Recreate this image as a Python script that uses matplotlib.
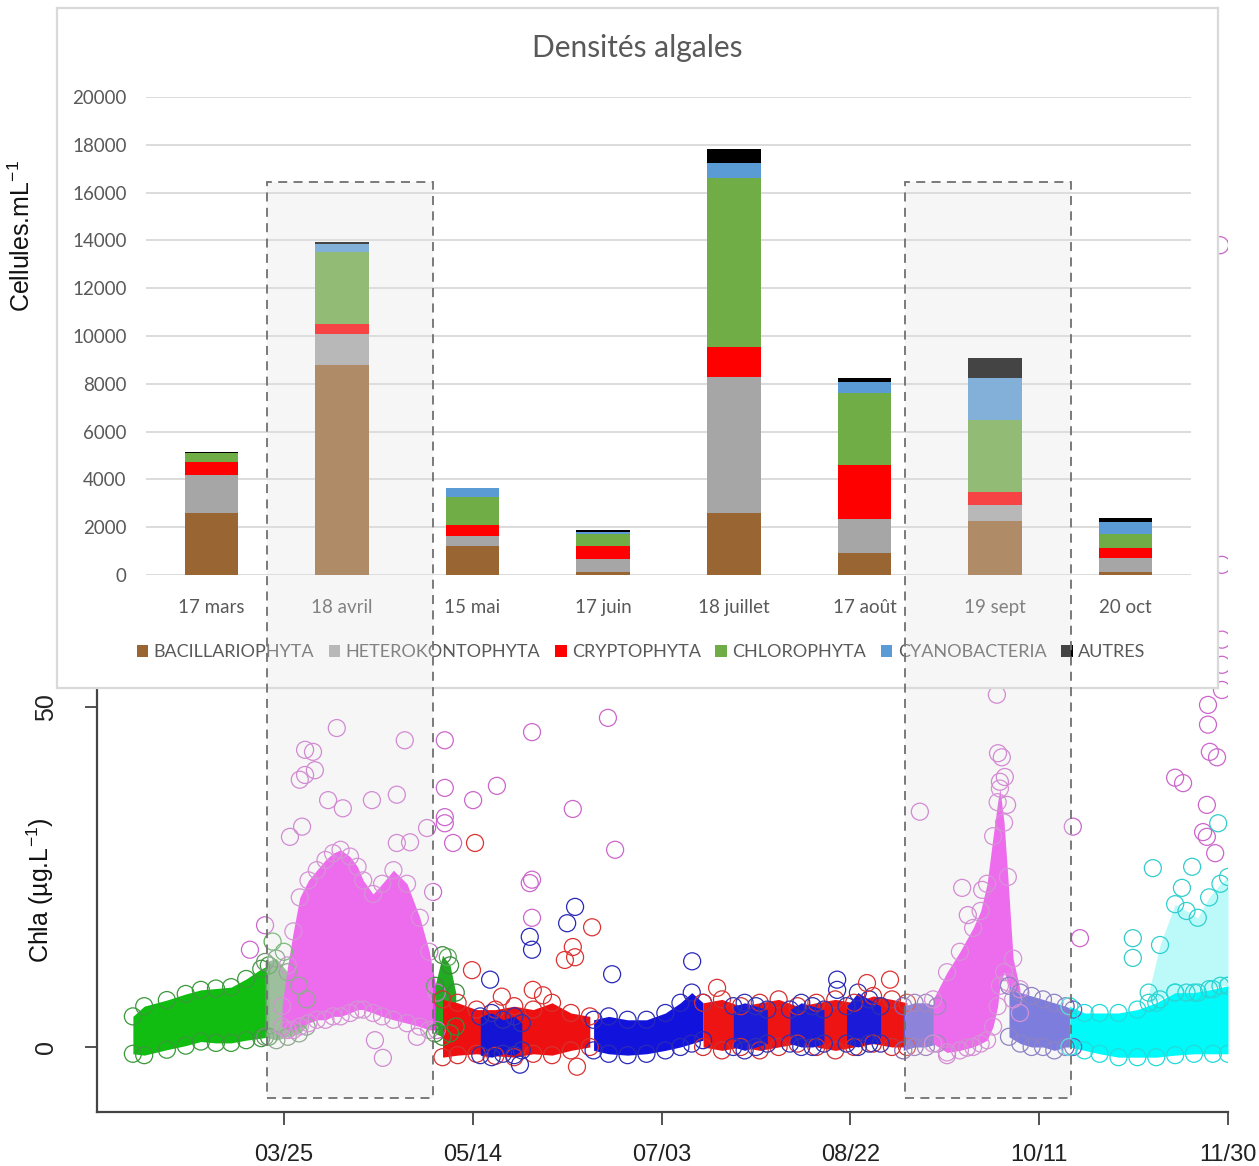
import matplotlib
matplotlib.use("Agg")
import matplotlib.pyplot as plt
from matplotlib.patches import Rectangle

plt.rcParams['mathtext.fontset'] = 'custom'
plt.rcParams['mathtext.rm'] = 'Liberation Sans'
plt.rcParams['mathtext.it'] = 'Liberation Sans'
plt.rcParams['mathtext.default'] = 'regular'

# ---- bar chart data (cells per mL) ----
dates = ['17 mars', '18 avril', '15 mai', '17 juin', '18 juillet', '17 août', '19 sept', '20 oct']
groups = ['BACILLARIOPHYTA', 'HETEROKONTOPHYTA', 'CRYPTOPHYTA', 'CHLOROPHYTA', 'CYANOBACTERIA', 'AUTRES']
bacill = [2600, 8800, 1200, 130, 2600, 920, 2260, 120]
hetero = [1600, 1270, 440, 530, 5700, 1420, 670, 590]
crypto = [540, 430, 450, 545, 1230, 2275, 540, 420]
chloro = [350, 3010, 1170, 515, 7090, 3000, 3010, 585]
cyano = [0, 360, 390, 85, 630, 450, 1760, 500]
autres = [60, 70, 0, 85, 560, 195, 840, 170]
bar_colors = ['#996633', '#a6a6a6', '#ff0000', '#70ad47', '#5b9bd5', '#000000']

# ---- chla time series (day of year, ug/L), envelopes of the dense clouds ----
green_day = [44, 47, 53, 58, 62, 66, 70, 74, 78, 80]
green_low = [-1.0, -1.2, -0.4, 0.2, 0.8, 0.6, 0.6, 1.0, 1.3, 1.5]
green_high = [4.5, 6.0, 6.9, 7.8, 8.4, 8.6, 8.8, 10.0, 11.5, 12.0]

graygreen_day = [79, 82, 85, 88, 90]
graygreen_low = [1.5, 1.0, 1.5, 2.0, 3.0]
graygreen_high = [12.5, 13.0, 11.0, 9.0, 7.0]

pink1_day = [83.5, 85, 86.5, 88.2, 90.5, 92.7, 95, 97, 99, 101.5, 103.5, 105, 107.6, 110, 113,
             116.6, 120, 122.5, 124.5]
pink1_low = [3.0, 2.5, 2.5, 3.0, 3.5, 4.0, 4.0, 4.5, 4.5, 5.0, 5.5, 5.5, 5.0, 4.5, 4.0, 3.5,
             3.0, 2.5, 2.5]
pink1_high = [6, 12, 17, 22, 24.5, 26, 27.5, 28.5, 29, 28, 26.5, 24.5, 22.5, 24, 26, 24,
              19, 14, 8]

green2_day = [124, 126, 128, 129.5]
green2_low = [2.0, 1.5, 2.0, 3.0]
green2_high = [9.0, 13.5, 12.0, 8.0]

red1_day = [126, 130, 135, 140, 145, 150, 155, 160, 165]
red1_low = [-1.5, -1.2, -1.0, -1.3, -1.5, -1.0, -1.2, -0.5, 0.0]
red1_high = [7.0, 6.5, 5.5, 5.5, 6.0, 5.5, 6.5, 5.0, 4.5]

blue1_day = [136, 139, 142, 145, 147]
blue1_low = [-1.2, -1.5, -1.0, -1.2, -0.5]
blue1_high = [4.5, 5.0, 4.0, 4.5, 3.5]

blue2_day = [166, 170, 175, 180, 185, 189, 192, 195]
blue2_low = [-0.5, -1.0, -1.2, -1.0, -0.5, 0.0, 0.5, 1.0]
blue2_high = [4.0, 4.5, 4.0, 4.0, 5.0, 6.5, 8.0, 6.5]

red3_day = [195, 200, 205, 210, 215, 220, 225, 230, 235, 240, 245, 249]
red3_low = [0.0, -0.5, 0.0, -0.5, 0.0, 0.5, 0.0, -0.5, 0.0, 0.5, 0.0, 0.0]
red3_high = [6.5, 7.0, 6.0, 6.5, 7.0, 6.0, 6.5, 7.0, 6.5, 7.5, 7.0, 6.5]

blue3_day = [203, 206, 209, 212]
blue3_low = [0.0, -0.5, 0.0, 0.5]
blue3_high = [6.0, 6.5, 6.0, 5.5]

blue4_day = [218, 221, 224, 227]
blue4_low = [0.5, 0.0, 0.0, 0.5]
blue4_high = [5.5, 6.5, 6.0, 5.5]

blue5_day = [233, 236, 239, 242]
blue5_low = [0.5, 0.0, 0.5, 0.5]
blue5_high = [6.0, 8.0, 7.0, 6.0]

purple1_day = [248, 251, 254, 257]
purple1_low = [-0.5, 0.0, 0.0, 0.5]
purple1_high = [6.0, 6.5, 6.5, 6.0]

pink2_day = [255.9, 259.6, 263.0, 266.5, 268.5, 270.2, 271.8, 273.0, 273.6, 274.7, 275.7, 277.1, 278.9]
pink2_low = [0.5, -0.8, -0.5, 0.0, 0.5, 1.0, 3.0, 6.0, 9.0, 11.0, 9.5, 7.0, 5.0]
pink2_high = [7.0, 11.0, 14.0, 17.5, 20.0, 24.0, 31.0, 36.0, 38.0, 33.0, 25.0, 13.0, 8.5]

purple2_day = [276, 279, 282, 285, 288, 291, 293]
purple2_low = [1.5, 0.5, 0.0, 0.0, -0.5, 0.0, 0.0]
purple2_high = [9.0, 8.0, 7.5, 7.0, 6.5, 6.0, 5.5]

cyan_day = [292, 296, 300, 305, 310, 315, 320, 325, 330, 334]
cyan_low = [0.0, -0.5, -1.0, -1.5, -1.5, -1.5, -1.2, -1.0, -1.0, -1.0]
cyan_high = [6.0, 5.0, 5.0, 5.0, 5.5, 6.5, 8.0, 8.0, 8.5, 9.0]

cyanup_day = [313, 316, 320, 323, 326, 329, 332, 334]
cyanup_low = [6.5, 7.0, 8.0, 8.0, 8.0, 8.5, 9.0, 9.0]
cyanup_high = [8.0, 15.0, 21.0, 20.0, 19.0, 22.0, 24.0, 25.0]

# isolated circles
pink_out_day = [98.0, 116.0, 89.6, 91.7, 92.2, 89.6, 88.2, 95.7, 107.3, 113.9, 85.6, 88.8, 99.6, 121.9,
                113.9, 117.4, 123.5, 79.0, 75.0, 108.1, 110.2, 119.2, 126.6, 149.7, 169.8, 126.6,
                134.1, 140.4, 126.6, 126.6, 128.8, 160.5, 171.7, 149.7, 149.1, 149.7,
                272.8, 328.7, 328.7, 273.1, 274.1, 274.9, 273.6, 275.5, 252.4, 292.9, 320.0,
                322.1, 328.4, 327.4, 328.4, 330.6, 329.2, 331.1, 263.6, 268.9, 265.1, 294.8,
                259.6, 264.9, 331.9, 332.4, 332.4, 332.4, 332.4]
pink_out_val = [46.9, 45.1, 43.7, 43.4, 40.7, 40.0, 39.3, 36.3, 36.3, 37.1, 30.9, 32.4, 35.1, 32.2,
                30.0, 30.1, 22.8, 17.9, 14.3, 1.0, -1.6, 1.5, 45.1, 46.3, 48.4, 38.1,
                36.3, 38.4, 33.8, 32.9, 30.0, 35.0, 29.0, 24.6, 24.1, 19.0,
                51.8, 50.3, 47.4, 43.2, 42.6, 39.7, 39.0, 35.6, 34.6, 32.4, 39.6,
                38.8, 35.6, 31.6, 30.9, 28.5, 43.4, 42.6, 23.4, 23.1, 19.4, 16.0,
                -1.2, -0.1, 117.9, 70.9, 59.9, 56.2, 52.5]
red_out_day = [134.6, 161.6, 165.6, 141.7, 149.9, 152.6, 133.8, 198.7, 238.4, 158.4, 160.5, 161.1, 244.5]
red_out_val = [30.0, -2.9, 17.6, 7.4, 8.4, 7.6, 11.3, 8.7, 9.4, 12.8, 14.7, 13.2, 9.9]
blue_out_day = [161.1, 159.0, 149.1, 149.7, 170.9, 192.1, 138.6, 230.5, 230.5, 146.5]
blue_out_val = [20.6, 18.2, 16.2, 14.3, 10.7, 12.6, 9.9, 9.9, 8.4, -2.6]
green_out_day = [127.4, 81.0, 84.0]
green_out_val = [13.2, 15.5, 14.0]
cyan_out_day = [314.1, 324.5, 321.8, 308.8, 308.8, 331.4]
cyan_out_val = [26.3, 26.5, 23.4, 16.0, 13.1, 32.9]

tick_days = [84, 134, 184, 234, 284, 334]
tick_labels = ['03/25', '05/14', '07/03', '08/22', '10/11', '11/30']

# periods highlighted across both charts
hl_start = [79.5, 248.5]
hl_end = [123.5, 292.5]
hl_low, hl_high = -7.5, 127.2

W, H = 1259, 1166
fig = plt.figure(figsize=(W / 100, H / 100), dpi=100)
fig.patch.set_facecolor('white')

# ---------------- scatter (R style) ----------------
ax = fig.add_axes([97 / W, 1 - 1112 / H, (1228 - 97) / W, (1112 - 14) / H], zorder=1)
ax.set_xlim(34.5, 334)
ax.set_ylim(-9.56, 151.9)

segments = [
    (green_day, green_low, green_high, '#10bd10', '#3a9a3a', 1.0),
    (graygreen_day, graygreen_low, graygreen_high, '#74a874', '#6f8f6f', 0.9),
    (pink1_day, pink1_low, pink1_high, '#f23af2', '#d070d0', 1.0),
    (green2_day, green2_low, green2_high, '#22aa22', '#3a8a3a', 1.0),
    (red1_day, red1_low, red1_high, '#ee1010', '#d83030', 1.0),
    (blue1_day, blue1_low, blue1_high, '#1414d4', '#3030b0', 1.0),
    (blue2_day, blue2_low, blue2_high, '#1212dd', '#2a2ab8', 1.0),
    (red3_day, red3_low, red3_high, '#ee1414', '#d03030', 1.0),
    (blue3_day, blue3_low, blue3_high, '#1a1ad8', '#3030b0', 1.0),
    (blue4_day, blue4_low, blue4_high, '#1a1ad8', '#3030b0', 1.0),
    (blue5_day, blue5_low, blue5_high, '#1a1ad8', '#3030b0', 1.0),
    (purple1_day, purple1_low, purple1_high, '#6a5ad8', '#8a60b0', 1.0),
    (pink2_day, pink2_low, pink2_high, '#f23af2', '#d070d0', 1.0),
    (purple2_day, purple2_low, purple2_high, '#5252dc', '#6a5ab8', 1.0),
    (cyanup_day, cyanup_low, cyanup_high, '#40f0f0', '#30d0d0', 0.35),
    (cyan_day, cyan_low, cyan_high, '#00fafa', '#22dada', 1.0),
]
for d, lo, hi, core, edge, a in segments:
    ax.fill_between(d, lo, hi, color=core, alpha=a, lw=0, zorder=2)
    ax.scatter(d + d, lo + hi, s=150, facecolors='none', edgecolors=edge, linewidths=0.9, zorder=3)

for d, v, c in [(pink_out_day, pink_out_val, '#cc66cc'), (red_out_day, red_out_val, '#dd3333'),
                (blue_out_day, blue_out_val, '#2828b8'), (green_out_day, green_out_val, '#55aa55'),
                (cyan_out_day, cyan_out_val, '#33cccc')]:
    ax.scatter(d, v, s=150, facecolors='none', edgecolors=c, linewidths=0.9, zorder=4)

for s in ['top', 'right']:
    ax.spines[s].set_visible(False)
for s in ['left', 'bottom']:
    ax.spines[s].set_color('#444444')
    ax.spines[s].set_linewidth(1.6)
ax.set_xticks(tick_days)
ax.set_xticklabels(tick_labels, fontsize=17, family='Liberation Sans', color='#222222')
ax.set_yticks([0, 50])
ax.set_yticklabels(['0', '50'], fontsize=18, family='Liberation Sans', color='#222222',
                   rotation=90, va='center')
ax.tick_params(length=9, width=1.3, color='#444444', pad=14)
ax.tick_params(axis='y', pad=19)
fig.text(40 / W, 1 - 890 / H, r'Chla (µg.L$^{-1}$)', rotation=90, ha='center', va='center',
         fontsize=18, family='Liberation Sans', color='#111111')

# ---------------- inset frame ----------------
frame = fig.add_axes([57 / W, 1 - 688 / H, 1161 / W, 680 / H], zorder=2)
frame.set_xticks([])
frame.set_yticks([])
frame.set_facecolor('white')
for s in frame.spines.values():
    s.set_color('#d9d9d9')
    s.set_linewidth(1.6)

# ---------------- stacked bars ----------------
bx = fig.add_axes([146 / W, 1 - 575 / H, 1045 / W, 478 / H], zorder=3)
bx.patch.set_alpha(0)
x = list(range(len(dates)))
bottom = [0] * len(dates)
handles = []
for vals, col, name in zip([bacill, hetero, crypto, chloro, cyano, autres], bar_colors, groups):
    h = bx.bar(x, vals, width=0.41, bottom=bottom, color=col, label=name, zorder=3)
    handles.append(h)
    bottom = [b + v for b, v in zip(bottom, vals)]
bx.set_xlim(-0.5, 7.5)
bx.set_ylim(0, 20000)
bx.set_yticks(range(0, 20001, 2000))
bx.yaxis.grid(True, color='#d9d9d9', lw=1.3, zorder=0)
bx.set_axisbelow(True)
for s in bx.spines.values():
    s.set_visible(False)
bx.set_xticks(x)
bx.set_xticklabels(dates)
bx.tick_params(length=0, labelsize=13.5, labelcolor='#595959')
bx.tick_params(axis='x', pad=17)
bx.tick_params(axis='y', pad=14)
for lab in bx.get_xticklabels() + bx.get_yticklabels():
    lab.set_family('Lato')

fig.text(637 / W, 1 - 48 / H, 'Densités algales', ha='center', va='center', fontsize=21.5,
         family='Lato', color='#595959', zorder=4)
fig.text(22 / W, 1 - 236 / H, r'Cellules.mL$^{-1}$', rotation=90, ha='center', va='center',
         fontsize=18, family='Liberation Sans', color='#111111')

leg = fig.legend(handles, groups, loc='center', bbox_to_anchor=(641 / W, 1 - 652 / H), ncol=6,
                 frameon=False, handlelength=0.65, handleheight=0.65, handletextpad=0.3,
                 columnspacing=0.8, prop={'family': 'Lato', 'size': 13})
leg.set_zorder(5)
for t in leg.get_texts():
    t.set_color('#595959')

# ---------------- highlight boxes over both charts ----------------
ov = fig.add_axes(ax.get_position(), zorder=6)
ov.set_xlim(ax.get_xlim())
ov.set_ylim(ax.get_ylim())
ov.axis('off')
for a, b in zip(hl_start, hl_end):
    ov.add_patch(Rectangle((a, hl_low), b - a, hl_high - hl_low, facecolor='#e2e2e2', alpha=0.3,
                           edgecolor='none'))
    ov.add_patch(Rectangle((a, hl_low), b - a, hl_high - hl_low, facecolor='none',
                           edgecolor='#707070', lw=1.3, linestyle=(0, (5, 3.5))))

fig.savefig('out.png', dpi=100)
